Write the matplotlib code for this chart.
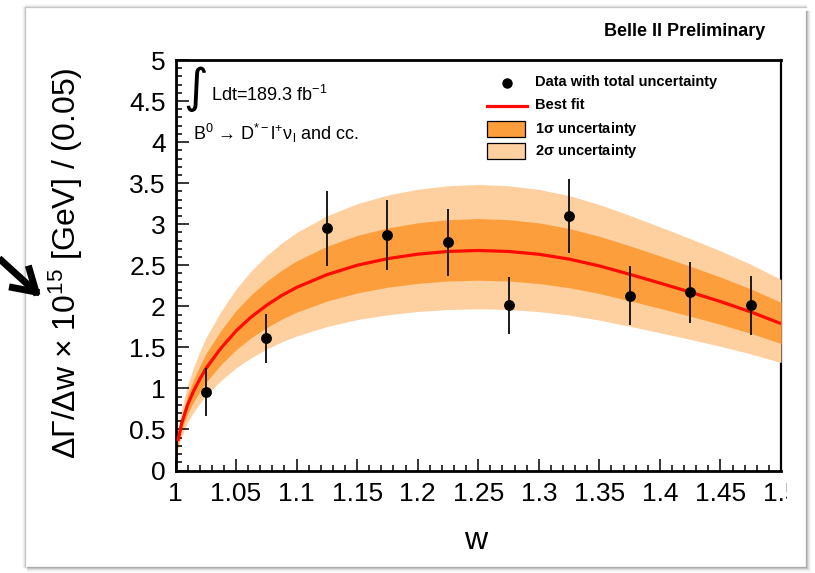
import numpy as np
import matplotlib

matplotlib.use("Agg")
import matplotlib.pyplot as plt  # noqa: E402
from matplotlib.lines import Line2D  # noqa: E402
from matplotlib.patches import Rectangle  # noqa: E402
from matplotlib.ticker import MultipleLocator, FixedLocator  # noqa: E402
from matplotlib.transforms import Bbox, TransformedBbox  # noqa: E402

W_PX, H_PX = 815, 573

# binned measurement, bin width 0.05 in w
W_BIN = [1.025, 1.075, 1.125, 1.175, 1.225, 1.275, 1.325, 1.375, 1.425, 1.475]
RATE = [0.955, 1.61, 2.95, 2.87, 2.78, 2.01, 3.10, 2.13, 2.17, 2.01]
RATE_ERR = [0.29, 0.30, 0.455, 0.43, 0.41, 0.345, 0.45, 0.355, 0.37, 0.36]

# best-fit spectrum and its 1 / 2 sigma bands
W_FIT = [1.0, 1.002, 1.005, 1.01, 1.015, 1.02, 1.025, 1.0375, 1.05, 1.0625,
         1.075, 1.0875, 1.1, 1.125, 1.15, 1.175, 1.2, 1.225, 1.25, 1.275,
         1.3, 1.325, 1.35, 1.375, 1.4, 1.425, 1.45, 1.475, 1.5]
FIT = [np.nan, 0.36, 0.57, 0.80, 0.97, 1.11, 1.24, 1.49, 1.70, 1.87,
       2.01, 2.13, 2.23, 2.385, 2.50, 2.58, 2.635, 2.668, 2.68, 2.668,
       2.634, 2.575, 2.492, 2.39, 2.283, 2.173, 2.058, 1.932, 1.789]
SIG1_LO = [0.0, 0.311, 0.493, 0.692, 0.839, 0.960, 1.073, 1.289, 1.471, 1.618,
           1.739, 1.842, 1.929, 2.063, 2.163, 2.232, 2.279, 2.308, 2.318, 2.308,
           2.278, 2.227, 2.156, 2.067, 1.975, 1.880, 1.780, 1.671, 1.547]
SIG1_HI = [0.0, 0.412, 0.653, 0.916, 1.111, 1.271, 1.420, 1.706, 1.947, 2.141,
           2.301, 2.439, 2.553, 2.731, 2.863, 2.954, 3.017, 3.055, 3.069, 3.055,
           3.016, 2.948, 2.853, 2.737, 2.614, 2.488, 2.356, 2.212, 2.048]
SIG2_LO = [0.0, 0.265, 0.419, 0.588, 0.713, 0.816, 0.911, 1.095, 1.250, 1.374,
           1.477, 1.566, 1.639, 1.753, 1.838, 1.896, 1.937, 1.961, 1.970, 1.961,
           1.936, 1.893, 1.832, 1.757, 1.678, 1.597, 1.513, 1.420, 1.315]
SIG2_HI = [0.0, 0.468, 0.741, 1.040, 1.261, 1.443, 1.612, 1.937, 2.210, 2.431,
           2.613, 2.769, 2.899, 3.101, 3.250, 3.354, 3.426, 3.468, 3.484, 3.468,
           3.424, 3.348, 3.240, 3.107, 2.968, 2.825, 2.675, 2.512, 2.326]

X_TICKS = [1.0, 1.05, 1.1, 1.15, 1.2, 1.25, 1.3, 1.35, 1.4, 1.45, 1.5]
X_TICK_LABELS = ["1", "1.05", "1.1", "1.15", "1.2", "1.25", "1.3", "1.35", "1.4", "1.45", "1.5"]
Y_TICKS = [0, 0.5, 1, 1.5, 2, 2.5, 3, 3.5, 4, 4.5, 5]
Y_TICK_LABELS = ["0", "0.5", "1", "1.5", "2", "2.5", "3", "3.5", "4", "4.5", "5"]

C_BAND1 = "#fd9e3c"
C_BAND2 = "#fecf9f"
C_FIT = "#ff0a00"

plt.rcParams["font.family"] = ["Liberation Sans", "DejaVu Sans"]
plt.rcParams["mathtext.fontset"] = "custom"
plt.rcParams["mathtext.rm"] = "Liberation Sans"
plt.rcParams["mathtext.it"] = "Liberation Sans:italic"
plt.rcParams["mathtext.default"] = "regular"


def fx(x):
    return x / W_PX


def fy(y):
    return 1 - y / H_PX


def fig_line(xs, ys, **kw):
    fig.add_artist(Line2D([fx(x) for x in xs], [fy(y) for y in ys],
                          transform=fig.transFigure, **kw))


fig = plt.figure(figsize=(W_PX / 100, H_PX / 100), dpi=100)
fig.patch.set_facecolor("white")

# slide panel with a soft drop shadow
L, T, R, B = 25, 7, 806, 567
for i, c in enumerate(["#a8a8a8", "#c2c2c2", "#dadada", "#ececec", "#f6f6f6"]):
    fig_line([R + i, R + i], [T + 4, B + i], color=c, lw=0.9)
    fig_line([L + 2, R + i], [B + i, B + i], color=c, lw=0.9)
for i, c in enumerate(["#c4c4c4", "#dedede", "#efefef"]):
    fig_line([L - i, L - i], [T, B], color=c, lw=0.9)
    fig_line([L, R], [T - i, T - i], color=c, lw=0.9)

ax = fig.add_axes([fx(175.5), fy(470.5), (781 - 175.5) / W_PX, (470.5 - 60) / H_PX])
ax.set_xlim(1.0, 1.5)
ax.set_ylim(0, 5)

ax.fill_between(W_FIT, SIG2_LO, SIG2_HI, color=C_BAND2, lw=0, zorder=1)
ax.fill_between(W_FIT, SIG1_LO, SIG1_HI, color=C_BAND1, lw=0, zorder=1.2)
ax.plot(W_FIT, FIT, color=C_FIT, lw=2.3, zorder=3, solid_capstyle="butt")
ax.errorbar(W_BIN, RATE, yerr=RATE_ERR, fmt="o", color="black", ecolor="#1a1a1a",
            markersize=6.8, elinewidth=1.4, capsize=0, zorder=4)

for sp in ax.spines.values():
    sp.set_linewidth(2.0)
    sp.set_color("black")
ax.spines["right"].set_zorder(0.5)
ax.spines["right"].set_linewidth(1.6)

ax.xaxis.set_major_locator(FixedLocator(X_TICKS))
ax.xaxis.set_minor_locator(MultipleLocator(0.01))
ax.set_xticklabels(X_TICK_LABELS)
ax.yaxis.set_major_locator(FixedLocator(Y_TICKS))
ax.yaxis.set_minor_locator(MultipleLocator(0.1))
ax.set_yticklabels(Y_TICK_LABELS)
ax.tick_params(which="both", direction="in", top=False, right=False, color="black", width=1.1)
ax.tick_params(which="major", length=9, labelsize=19)
ax.tick_params(which="minor", length=4.5)
ax.tick_params(axis="x", which="major", pad=8)
ax.tick_params(axis="y", which="major", pad=7)

# the image edge cuts the last x label
clip = TransformedBbox(Bbox([[0, 0], [fx(787), 1]]), fig.transFigure)
for lbl in ax.get_xticklabels():
    lbl.set_clip_box(clip)
    lbl.set_clip_on(True)

fig.text(fx(476), fy(541), "w", fontsize=23, ha="center", va="center")
fig.text(fx(66), fy(263), "ΔΓ/Δw × 10$^{15}$ [GeV] / (0.05)", rotation=90,
         fontsize=23, ha="center", va="center")

fig.text(fx(765), fy(32), "Belle II Preliminary", fontsize=13, fontweight="bold",
         ha="right", va="center")

# luminosity and decay channel
fig.text(fx(196), fy(89), "∫", fontsize=34, family="DejaVu Sans", ha="center", va="center")
fig.text(fx(211), fy(95), "Ldt=189.3 fb$^{-1}$", fontsize=13, ha="left", va="center")
fig.text(fx(193), fy(133), "B$^{0}$ → D$^{*-}$l$^{+}$ν$_{l}$ and cc.",
         fontsize=13, ha="left", va="center")

# legend
fig_line([507], [83], marker="o", color="black", markersize=6.5)
fig_line([487, 527], [106, 106], color=C_FIT, lw=2.3)
fig.add_artist(Rectangle((fx(487), fy(137)), 38 / W_PX, 16 / H_PX, facecolor=C_BAND1,
                         edgecolor="black", lw=0.9, transform=fig.transFigure))
fig.add_artist(Rectangle((fx(487), fy(159)), 38 / W_PX, 16 / H_PX, facecolor=C_BAND2,
                         edgecolor="black", lw=0.9, transform=fig.transFigure))
for y, s in [(82, "Data with total uncertainty"), (105, "Best fit"),
             (129, "1$\\sigma$ uncertainty"), (151, "2$\\sigma$ uncertainty")]:
    fig.text(fx(535), fy(y), s, fontsize=10.5, fontweight="bold", ha="left", va="center")

# pointer arrow coming in from the left edge
tail = np.array([-8.0, 252.0])
tip = np.array([36.0, 292.0])
back = (tail - tip) / np.hypot(*(tail - tip))
fig_line([tail[0], tip[0] + 3 * back[0]], [tail[1], tip[1] + 3 * back[1]],
         color="black", lw=5, solid_capstyle="butt")
for ang in (0.55, -0.55):
    c, s = np.cos(ang), np.sin(ang)
    wing = tip + 24 * np.array([c * back[0] - s * back[1], s * back[0] + c * back[1]])
    fig_line([wing[0], tip[0]], [wing[1], tip[1]], color="black", lw=5,
             solid_capstyle="projecting", solid_joinstyle="miter")

fig.savefig("out.png", dpi=100, facecolor="white")
